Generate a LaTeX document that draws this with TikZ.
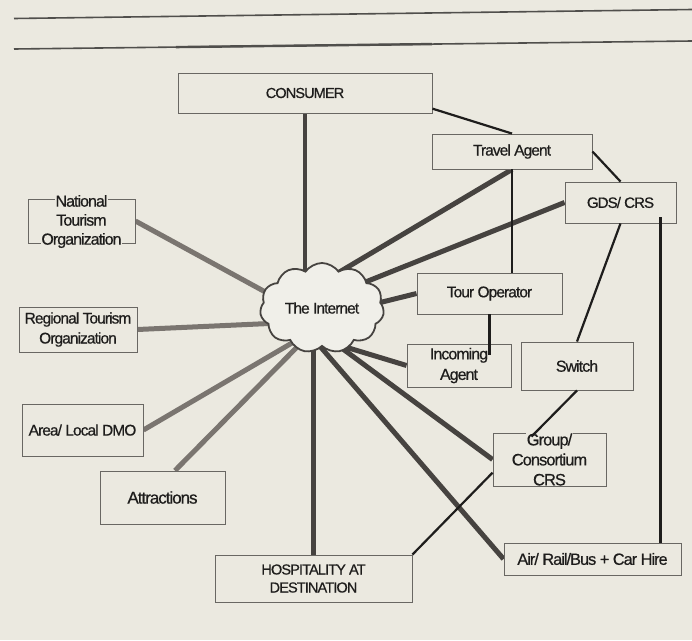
\documentclass[tikz,border=0pt]{standalone}
\usepackage{fontspec}
\setmainfont{Liberation Sans}[LetterSpace=-6,FakeBold=0.6]
\usetikzlibrary{shapes.symbols,calc}

\definecolor{paper}{RGB}{235,233,224}
\definecolor{ink}{RGB}{30,29,28}
\definecolor{frame}{RGB}{105,103,99}
\definecolor{darklink}{RGB}{70,67,64}
\definecolor{greylink}{RGB}{122,117,112}
\definecolor{rule}{RGB}{80,79,76}
\definecolor{cloudfill}{RGB}{240,239,233}

\newcommand\fs[1]{\fontsize{#1}{20}\selectfont}

\pgfdeclarelayer{paperlayer}
\pgfdeclarelayer{back}
\pgfsetlayers{paperlayer,back,main}

\begin{document}
\begin{tikzpicture}[x=1pt,y=-1pt,
  box/.style={draw=frame, line width=0.9pt, fill=paper, inner sep=0pt,
    align=center, text=ink, font=\fs{15.5}},
  lbl/.style={inner sep=0pt, align=center, text=ink, font=\fs{15.5}},
  heavy/.style={draw=darklink, line width=5pt},
  heavygrey/.style={draw=greylink, line width=5pt},
  thin/.style={draw=ink, line width=2.2pt},
  pagerule/.style={draw=rule, line width=1.6pt}
]
\begin{pgfonlayer}{paperlayer}
  \fill[paper] (0,0) rectangle (692,640);
\end{pgfonlayer}
\useasboundingbox (0,0) rectangle (692,640);
\setlength\fboxsep{0.6pt}

% page rules
\coordinate (r1a) at (14,18.5);
\coordinate (r1b) at (692,9.5);
\coordinate (r2a) at (14,49);
\coordinate (r2b) at (692,41);
\draw[pagerule] (r1a) -- (r1b);
\draw[pagerule] (r2a) -- (r2b);
\draw[draw=rule, line width=2.4pt] ($(r2a)!0.2389!(r2b)$) -- ($(r2a)!0.6165!(r2b)$);

% the Internet
\node[cloud, cloud puffs=11, cloud puff arc=110, aspect=1.4,
  minimum width=124pt, minimum height=90pt, inner sep=0pt,
  draw=darklink, line width=1.8pt, fill=cloudfill,
  text=ink, font=\fs{15.5}] (internet) at (322,308) {The Internet};

% boxes
\node[box, minimum width=254pt, minimum height=40pt, font=\fs{14.5}] (consumer) at (305,93) {CONSUMER};
\node[box, minimum width=160pt, minimum height=35pt] (travel) at (512,151.5) {Travel Agent};
\node[box, minimum width=111pt, minimum height=41pt, font=\fs{15}] (gds) at (620.5,202.5) {GDS/ CRS};
\node[box, minimum width=145pt, minimum height=41pt] (tour) at (489.5,293.5) {Tour Operator};
\node[box, minimum width=104pt, minimum height=43pt, font=\fs{16}] (incoming) at (459,365.5) {Incoming\\[0.5pt]Agent};
\node[box, minimum width=112pt, minimum height=48pt, font=\fs{16}] (switch) at (577,366) {Switch};
\node[box, minimum width=118pt, minimum height=45pt] (regional) at (78,329.5) {Regional Tourism\\Organization};
\node[box, minimum width=121pt, minimum height=52pt] (area) at (82.5,430) {Area/ Local DMO};
\node[box, minimum width=125pt, minimum height=53pt, font=\fs{17}] (attractions) at (162.5,497.5) {Attractions};
\node[box, minimum width=177pt, minimum height=32pt, font=\fs{16.3}] (air) at (592.5,559) {Air/ Rail/Bus + Car Hire};
\node[box, minimum width=197pt, minimum height=47pt, font=\fs{14.5}] (hosp) at (313.5,578.5) {HOSPITALITY AT\\[-2pt]DESTINATION};

% boxes whose text runs over the frame
\node[box, minimum width=107pt, minimum height=44pt] (nat) at (81.5,221) {};
\node[lbl, font=\fs{16}, yshift=-0.5pt] (natText) at (nat.center)
  {\colorbox{paper}{National}\\[-1pt]\colorbox{paper}{Tourism}\\[-1pt]\colorbox{paper}{Organization}};
\node[box, minimum width=113pt, minimum height=53pt] (group) at (549.5,459.5) {};
\node[lbl, font=\fs{16.5}] (groupText) at (group.center)
  {\colorbox{paper}{Group/}\\\colorbox{paper}{Consortium}\\\colorbox{paper}{CRS}};

% links into the Internet, kept behind the cloud
\begin{pgfonlayer}{back}
  \draw[darklink, line width=3.5pt] (consumer.south) -- (consumer.south |- internet.center);
  \draw[heavy] (travel.south) -- ($(internet.center)+(9,-31)$);
  \draw[heavy] (gds.west) -- ($(internet.center)+(26,-19)$);
  \draw[heavy] (tour.west) -- ($(internet.center)+(36,0)$);
  \draw[heavy] (incoming.west) -- ($(internet.center)+(-3,31)$);
  \draw[heavy] (group.west) -- ($(internet.center)+(2,27)$);
  \draw[heavy] (air.west) -- ($(internet.center)+(-10,29)$);
  \draw[heavy] (hosp.north) -- (hosp.north |- internet.center);
  \draw[heavygrey] ($(attractions.north)+(12.5,0)$) -- ($(internet.center)+(-16,30)$);
  \draw[heavygrey] (area.east) -- ($(internet.center)+(-25,32)$);
  \draw[heavygrey] (regional.east) -- ($(internet.center)+(-42,15)$);
  \draw[heavygrey] (nat.east) -- ($(internet.center)+(-42,-8)$);
\end{pgfonlayer}

% trade links
\coordinate (gdsdrop) at ($(gds.south)+(40,-6)$);
\draw[thin] (consumer.-7) -- (travel.north);
\draw[thin] (travel.east) -- (gds.north);
\draw[thin] (travel.south) -- (travel.south |- tour.north);
\draw[thin] (tour.south) -- ($(tour.south |- incoming.north)+(0,11)$);
\draw[thin] (gds.south) -- (switch.north);
\draw[thin] (gdsdrop) -- (gdsdrop |- air.north);
\draw[thin] (switch.south) -- ($(group.north)+(-18,4)$);
\draw[thin] (group.193) -- (hosp.north east);
\end{tikzpicture}
\end{document}
